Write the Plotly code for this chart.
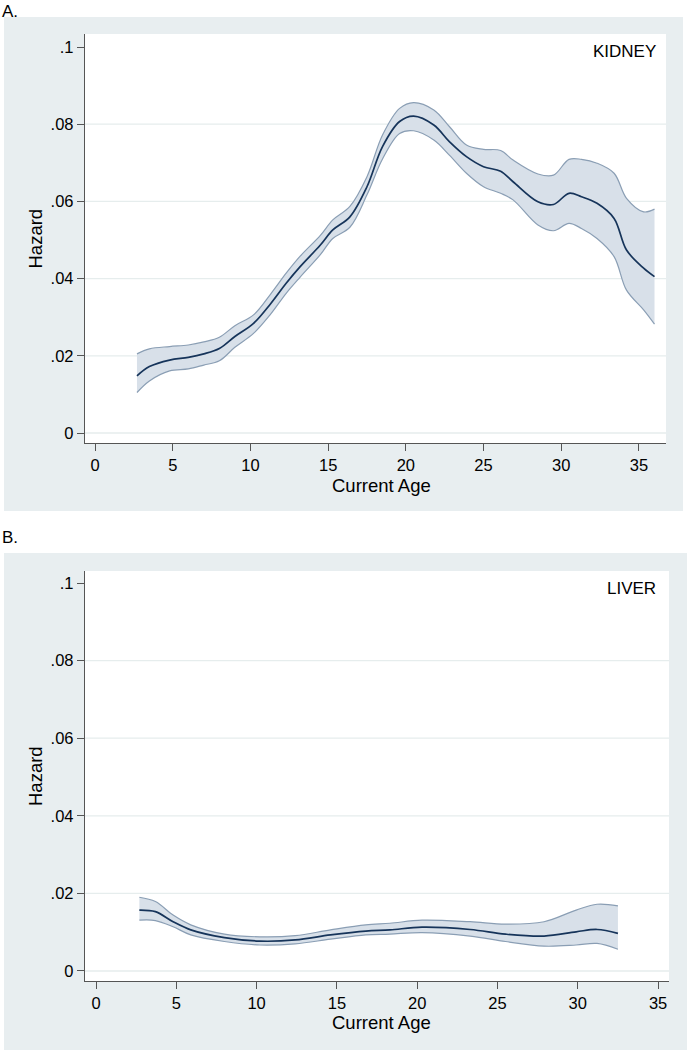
import plotly.graph_objects as go

# ---------------- Data ----------------
kidney_age = [2.7, 3.5, 4.8, 6.0, 7.0, 8.0, 9.0, 10.2, 11.3, 12.3, 13.2, 14.5, 15.3, 16.4,
              17.5, 18.5, 19.6, 20.5, 21.8, 22.8, 23.9, 25.0, 26.1, 26.9, 28.5, 29.5,
              30.5, 31.3, 32.3, 33.4, 34.2, 35.3, 36.0]
kidney_hazard = [0.0148, 0.0172, 0.0189, 0.0196, 0.0205, 0.0219, 0.0250, 0.0284, 0.0335,
                 0.0388, 0.0431, 0.0487, 0.0526, 0.0560, 0.0638, 0.0742, 0.0807, 0.0821,
                 0.0798, 0.0755, 0.0716, 0.0690, 0.0678, 0.0651, 0.0599, 0.0592, 0.0621,
                 0.0612, 0.0595, 0.0556, 0.0474, 0.0427, 0.0405]
kidney_upper = [0.0205, 0.0218, 0.0224, 0.0228, 0.0236, 0.0248, 0.0278, 0.0306, 0.0360,
                0.0414, 0.0458, 0.0512, 0.0552, 0.0587, 0.0664, 0.0772, 0.0841, 0.0856,
                0.0837, 0.0794, 0.0746, 0.0735, 0.0732, 0.0707, 0.0671, 0.0668, 0.0709,
                0.0709, 0.0699, 0.0673, 0.0608, 0.0573, 0.0580]
kidney_lower = [0.0105, 0.0135, 0.0161, 0.0166, 0.0176, 0.0187, 0.0222, 0.0258, 0.0308,
                0.0362, 0.0404, 0.0462, 0.0504, 0.0533, 0.0617, 0.0710, 0.0776, 0.0783,
                0.0759, 0.0720, 0.0673, 0.0638, 0.0621, 0.0604, 0.0539, 0.0524, 0.0543,
                0.0530, 0.0504, 0.0457, 0.0370, 0.0319, 0.0282]

liver_age = [2.7, 3.7, 4.8, 5.9, 8.0, 10.2, 12.4, 14.6, 16.8, 18.3, 20.3, 23.3, 25.5,
             27.9, 29.9, 31.2, 32.5]
liver_hazard = [0.0157, 0.0153, 0.0127, 0.0106, 0.0086, 0.0077, 0.0080, 0.0093, 0.0103,
                0.0106, 0.0113, 0.0107, 0.0095, 0.0090, 0.0101, 0.0107, 0.0097]
liver_upper = [0.0190, 0.0179, 0.0144, 0.0119, 0.0095, 0.0088, 0.0091, 0.0106, 0.0119,
               0.0123, 0.0131, 0.0127, 0.0121, 0.0127, 0.0157, 0.0172, 0.0168]
liver_lower = [0.0131, 0.0130, 0.0114, 0.0093, 0.0076, 0.0067, 0.0070, 0.0082, 0.0093,
               0.0095, 0.0099, 0.0090, 0.0076, 0.0064, 0.0067, 0.0071, 0.0056]

x_ticks = [0, 5, 10, 15, 20, 25, 30, 35]
y_ticks = [0, 0.02, 0.04, 0.06, 0.08, 0.1]
y_ticktext = ["0", ".02", ".04", ".06", ".08", ".1"]
grid_vals = [0, 0.02, 0.04, 0.06, 0.08]

# ---------------- Styles ----------------
W, H = 687, 1050
BG = "rgb(232,238,240)"
BAND_FILL = "rgb(216,224,233)"
BAND_LINE = "rgb(138,158,180)"
MAIN_LINE = "rgb(22,52,90)"
AXIS_COL = "#555555"
GRID_COL = "rgb(230,237,237)"
FONT = "Liberation Sans, Arial, Helvetica, sans-serif"
FS_TICK = 16.5
FS_TITLE = 18.5

fig = go.Figure()


def add_panel(ages, haz, lo, hi, xa, ya):
    fig.add_trace(go.Scatter(x=ages, y=lo, mode="lines", line=dict(color=BAND_LINE, width=1.2, shape="spline"),
                             xaxis=xa, yaxis=ya, hoverinfo="skip"))
    fig.add_trace(go.Scatter(x=ages, y=hi, mode="lines", line=dict(color=BAND_LINE, width=1.2, shape="spline"),
                             fill="tonexty", fillcolor=BAND_FILL, xaxis=xa, yaxis=ya, hoverinfo="skip"))
    fig.add_trace(go.Scatter(x=ages, y=haz, mode="lines", line=dict(color=MAIN_LINE, width=1.7, shape="spline"),
                             xaxis=xa, yaxis=ya))


add_panel(kidney_age, kidney_hazard, kidney_lower, kidney_upper, "x", "y")
add_panel(liver_age, liver_hazard, liver_lower, liver_upper, "x2", "y2")

# panel geometry (pixels)
A = dict(l=85, r=666, t=34, b=443)
B = dict(l=85, r=669, t=571, b=981)


def dom_x(p):
    return [p["l"] / W, p["r"] / W]


def dom_y(p):
    return [1 - p["b"] / H, 1 - p["t"] / H]


axis_common = dict(showline=True, linecolor=AXIS_COL, linewidth=1.3, ticks="outside", ticklen=7,
                   tickwidth=1.3, tickcolor=AXIS_COL, showgrid=False, zeroline=False,
                   tickfont=dict(family=FONT, size=FS_TICK, color="black"), mirror=False)

fig.update_layout(
    width=W, height=H, margin=dict(l=0, r=0, t=0, b=0),
    paper_bgcolor="white", plot_bgcolor="white", showlegend=False,
    xaxis=dict(domain=dom_x(A), range=[-0.644, 36.74], tickvals=x_ticks, anchor="y", **axis_common),
    yaxis=dict(domain=dom_y(A), range=[-0.00259, 0.10337], tickvals=y_ticks, ticktext=y_ticktext,
               anchor="x", **axis_common),
    xaxis2=dict(domain=dom_x(B), range=[-0.685, 35.68], tickvals=x_ticks, anchor="y2", **axis_common),
    yaxis2=dict(domain=dom_y(B), range=[-0.00258, 0.1031], tickvals=y_ticks, ticktext=y_ticktext,
                anchor="x2", **axis_common),
)

shapes = []
# gray panel backgrounds
for (x0, y0, x1, y1) in [(4, 17, 683, 511), (4, 553, 687, 1050)]:
    shapes.append(dict(type="rect", xref="paper", yref="paper", x0=x0 / W, x1=x1 / W,
                       y0=1 - y1 / H, y1=1 - y0 / H, fillcolor=BG, line=dict(width=0), layer="below"))
for p in (A, B):
    shapes.append(dict(type="rect", xref="paper", yref="paper", x0=p["l"] / W, x1=p["r"] / W,
                       y0=1 - p["b"] / H, y1=1 - p["t"] / H, fillcolor="white", line=dict(width=0),
                       layer="below"))
for xr, yr in [("x", "y"), ("x2", "y2")]:
    for g in grid_vals:
        shapes.append(dict(type="line", xref=xr + " domain", yref=yr, x0=0, x1=1, y0=g, y1=g,
                           line=dict(color=GRID_COL, width=1.3), layer="below"))
fig.update_layout(shapes=shapes)

ann = []
ann.append(dict(text="A.", x=0, y=1.0, xref="paper", yref="paper", xanchor="left", yanchor="top",
                showarrow=False, font=dict(family=FONT, size=17, color="black")))
ann.append(dict(text="B.", x=0, y=1 - 526 / H, xref="paper", yref="paper", xanchor="left", yanchor="top",
                showarrow=False, font=dict(family=FONT, size=17, color="black")))
ann.append(dict(text="KIDNEY", x=658 / W, y=1 - 51 / H, xref="paper", yref="paper", xanchor="right",
                yanchor="middle", showarrow=False, font=dict(family=FONT, size=17, color="black")))
ann.append(dict(text="LIVER", x=658 / W, y=1 - 588 / H, xref="paper", yref="paper", xanchor="right",
                yanchor="middle", showarrow=False, font=dict(family=FONT, size=17, color="black")))
for p, ylab in [(A, 485), (B, 1022)]:
    ann.append(dict(text="Current Age", x=381 / W, y=1 - ylab / H, xref="paper",
                    yref="paper", xanchor="center", yanchor="middle", showarrow=False,
                    font=dict(family=FONT, size=FS_TITLE, color="black")))
    ann.append(dict(text="Hazard", x=35 / W, y=1 - (p["t"] + p["b"]) / 2 / H, xref="paper", yref="paper",
                    xanchor="center", yanchor="middle", textangle=-90, showarrow=False,
                    font=dict(family=FONT, size=FS_TITLE, color="black")))
fig.update_layout(annotations=ann)

fig.write_html("out.html", config={"displayModeBar": False},
               post_script="document.body.style.margin='0px';document.body.style.padding='0px';")
